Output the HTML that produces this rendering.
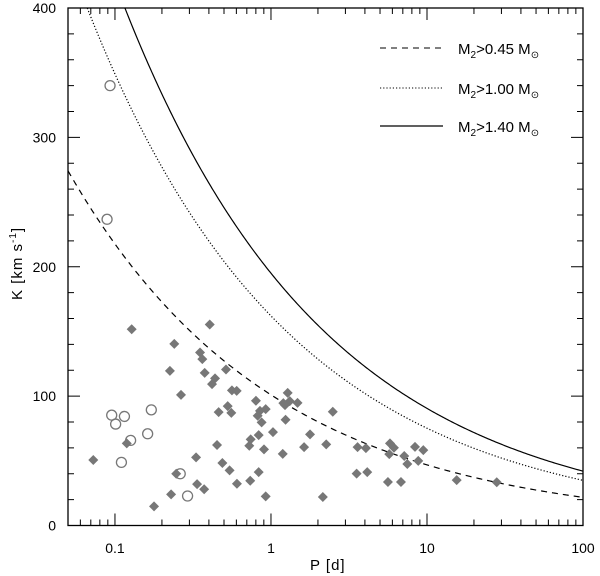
<!DOCTYPE html>
<html><head><meta charset="utf-8"><style>
html,body{margin:0;padding:0;background:#fff}
svg{display:block}
text{font-family:"Liberation Sans","DejaVu Sans",sans-serif;fill:#000}
</style></head><body>
<svg id="chart" width="600" height="576" viewBox="0 0 600 576" xmlns="http://www.w3.org/2000/svg">
<g id="ticks"></g>
<g id="curves"></g>
<g id="points"></g>
<rect x="68" y="8" width="515" height="517.5" fill="none" stroke="#000" stroke-width="1.3"/>
<g id="labels" font-size="14"></g>
<text x="310" y="570" font-size="15" letter-spacing="1">P [d]</text>
<text transform="translate(22,300) rotate(-90)" font-size="15" letter-spacing="1">K [km s<tspan font-size="10" dy="-6">-1</tspan><tspan dy="6">]</tspan></text>
<g font-size="15">
 <line x1="380" y1="48" x2="443" y2="48" stroke="#000" stroke-dasharray="6,5"/>
 <text x="458" y="54">M<tspan font-size="10" dy="4">2</tspan><tspan dy="-4">&gt;0.45 M</tspan><tspan font-size="10" dy="4">⊙</tspan></text>
 <line x1="380" y1="88" x2="443" y2="88" stroke="#000" stroke-dasharray="1.2,2"/>
 <text x="458" y="94">M<tspan font-size="10" dy="4">2</tspan><tspan dy="-4">&gt;1.00 M</tspan><tspan font-size="10" dy="4">⊙</tspan></text>
 <line x1="380" y1="126" x2="443" y2="126" stroke="#000" stroke-width="1.2"/>
 <text x="458" y="132">M<tspan font-size="10" dy="4">2</tspan><tspan dy="-4">&gt;1.40 M</tspan><tspan font-size="10" dy="4">⊙</tspan></text>
</g>
</svg>
<script>
const diamondP=[0.0726,0.128,0.240,0.405,0.225,0.351,0.363,0.376,0.419,0.438,0.515,0.265,0.462,0.528,0.557,0.562,0.603,0.801,0.850,0.822,0.925,0.871,1.28,1.32,1.23,1.48,1.24,1.03,0.834,0.741,0.726,0.902,1.19,1.63,1.78,2.26,2.49,3.59,3.54,0.451,0.331,0.488,0.543,0.605,0.736,0.834,0.925,2.15,0.373,0.336,0.247,0.229,0.178,0.119,1.20,4.06,4.14,5.79,6.14,5.73,5.62,6.81,7.15,7.48,8.38,8.79,9.47,15.5,28];
const diamondK=[50.6,151.7,140.4,155.4,119.5,133.7,128.6,118,109.3,113.7,120.6,101,87.6,92.3,87.1,104.4,104.1,96.4,88.6,84.8,90,79.7,102.5,96.1,93,94.8,81.7,72.2,69.9,66.6,61.6,58.8,55.4,60.6,70.4,62.7,87.9,60.6,40.1,62.2,52.7,48.3,42.6,32.3,34.6,41.3,22.5,22,28,32,40,24.1,14.8,63.5,94.6,59.8,41.3,63.5,60.1,55.2,33.6,33.6,53.7,47.5,60.8,50,58.3,35.1,33.4];
const circleP=[0.0953,0.115,0.101,0.171,0.162,0.126,0.110,0.262,0.292,0.093,0.089];
const circleK=[85.3,84.3,78.4,89.4,70.9,65.8,48.8,40,22.8,340,236.7];
const curveNames=['curve-m045','curve-m100','curve-m140'];
const curveK1=[101,162,195];
const xTickLabels=['0.1','1','10','100'];
const xTickVals=[0.1,1,10,100];
const yTickVals=[0,100,200,300,400];

const NS='http://www.w3.org/2000/svg';
const X0=68,X1=583,Y0=525.5,Y1=8;
const lmin=Math.log10(0.05),lmax=2;
function xs(p){return X0+(Math.log10(p)-lmin)/(lmax-lmin)*(X1-X0);}
function ys(k){return Y0-k/400*(Y0-Y1);}
function mk(tag,attrs,parent){const e=document.createElementNS(NS,tag);for(const k in attrs)e.setAttribute(k,attrs[k]);parent.appendChild(e);return e;}

const tg=document.getElementById('ticks');
for(let d=-2;d<=2;d++){for(let m=1;m<10;m++){const v=m*Math.pow(10,d);if(v<0.05-1e-9||v>100+1e-9)continue;const x=xs(v);const L=m===1?12:6;
 const t1=mk('line',{x1:x,y1:Y0,x2:x,y2:Y0-L,stroke:'#000','stroke-width':1},tg);
 
 
 const t2=mk('line',{x1:x,y1:Y1,x2:x,y2:Y1+L,stroke:'#000','stroke-width':1},tg);
 
 }}
for(let v=0;v<=400;v+=20){const y=ys(v);const L=v%100===0?12:6;
 const t1=mk('line',{x1:X0,y1:y,x2:X0+L,y2:y,stroke:'#000','stroke-width':1},tg);
 
 
 const t2=mk('line',{x1:X1,y1:y,x2:X1-L,y2:y,stroke:'#000','stroke-width':1},tg);
 
 }

const lg=document.getElementById('labels');
xTickVals.forEach((v,i)=>{const t=mk('text',{x:xs(v),y:553,'text-anchor':'middle'},lg);t.textContent=xTickLabels[i];
 
 });
yTickVals.forEach(v=>{const t=mk('text',{x:56,y:ys(v)+5,'text-anchor':'end'},lg);t.textContent=String(v);
 
 });

const cg=document.getElementById('curves');
const styles=['6,5','1.2,2',''];
curveK1.forEach((k1,i)=>{let d='';let started=false;
 for(let j=0;j<=400;j++){const lp=lmin+(lmax-lmin)*j/400;const p=Math.pow(10,lp);let k=k1*Math.pow(p,-1/3);
  if(k>400){continue;}const x=xs(p),y=ys(k);
  if(!started){ // start at top edge
   const pt=Math.pow(k1/400,3);const xe=pt>0.05?xs(pt):x;const ye=pt>0.05?Y1:y;d+='M'+xe.toFixed(2)+','+ye.toFixed(2)+' ';started=true;}
  d+='L'+x.toFixed(2)+','+y.toFixed(2)+' ';}
 const a={d:d,fill:'none',stroke:'#000','stroke-width':1.2};if(styles[i])a['stroke-dasharray']=styles[i];
 const pth=mk('path',a,cg);
 
 });

const pg=document.getElementById('points');
diamondP.forEach((p,i)=>{const x=xs(p),y=ys(diamondK[i]),r=5;
 const e=mk('polygon',{points:`${x},${y-r} ${x+r},${y} ${x},${y+r} ${x-r},${y}`,fill:'#777'},pg);
 
 });
circleP.forEach((p,i)=>{
 const e=mk('circle',{cx:xs(p),cy:ys(circleK[i]),r:5,fill:'none',stroke:'#777','stroke-width':1.3},pg);
 
 });
</script>
</body></html>
